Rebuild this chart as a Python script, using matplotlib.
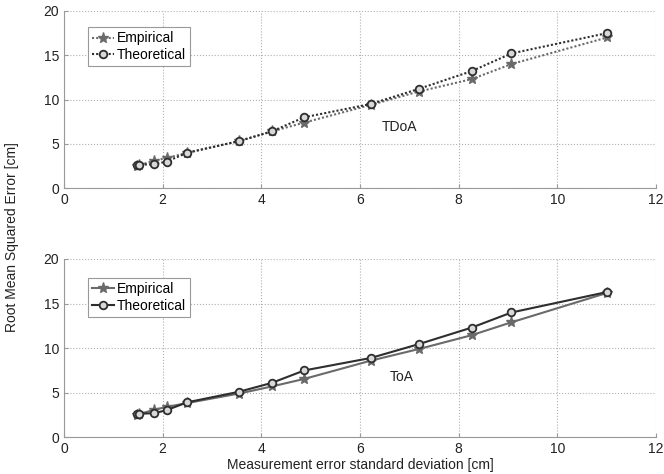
import numpy as np
import matplotlib
matplotlib.use('Agg')
import matplotlib.pyplot as plt

plt.rcParams['font.family'] = ['Liberation Sans', 'DejaVu Sans']

# measurement error std dev [cm]
sigma = [1.47, 1.53, 1.83, 2.08, 2.50, 3.54, 4.21, 4.87, 6.22, 7.19, 8.26, 9.07, 11.01]

# TDoA rmse [cm]
tdoa_emp = [2.5, 2.6, 3.1, 3.4, 4.0, 5.3, 6.4, 7.4, 9.4, 10.9, 12.3, 14.0, 17.0]
tdoa_theo = [2.6, 2.65, 2.7, 3.0, 4.0, 5.3, 6.4, 8.0, 9.5, 11.2, 13.2, 15.2, 17.5]

# ToA rmse [cm]
toa_emp = [2.55, 2.6, 3.1, 3.4, 3.85, 4.9, 5.7, 6.55, 8.6, 9.9, 11.45, 12.9, 16.2]
toa_theo = [2.6, 2.65, 2.7, 3.05, 3.93, 5.1, 6.1, 7.5, 8.9, 10.45, 12.3, 14.0, 16.3]

dotted = (0, (1, 1))
panels = [('TDoA', tdoa_emp, tdoa_theo, dotted, (6.45, 6.45), 0.908),
          ('ToA', toa_emp, toa_theo, '-', (6.6, 6.3), 0.893)]

fig = plt.figure(figsize=(6.64, 4.74), dpi=100)
boxes = [[0.0964, 0.603, 0.8916, 0.374],
         [0.0964, 0.0774, 0.8916, 0.3762]]

for box, (name, emp, theo, ls, txt, legy) in zip(boxes, panels):
    ax = fig.add_axes(box)
    lw = 1.5
    ax.plot(sigma, emp, linestyle=ls, color='#6a6a6a', lw=lw, marker='*',
            ms=8, mfc='#6a6a6a', mec='#6a6a6a', label='Empirical')
    ax.plot(sigma, theo, linestyle=ls, color='#2e2e2e', lw=lw, marker='o',
            ms=5.5, mfc='#d8d8d8', mec='#2e2e2e', mew=1.3, label='Theoretical')
    ax.set_xlim(0, 12)
    ax.set_ylim(0, 20)
    ax.set_xticks(np.arange(0, 13, 2))
    ax.set_yticks(np.arange(0, 21, 5))
    ax.grid(True, linestyle=':', color='#b0b0b0', lw=0.8)
    for s in ['top', 'right']:
        ax.spines[s].set_visible(False)
    for s in ['left', 'bottom']:
        ax.spines[s].set_color('#999999')
    ax.tick_params(direction='in', length=3, color='#999999', labelsize=10,
                   labelcolor='#222222')
    ax.text(txt[0], txt[1], name, fontsize=10, color='#222222')
    leg = ax.legend(loc='upper left', bbox_to_anchor=(0.04, legy), fontsize=10,
                    fancybox=False, framealpha=1, edgecolor='#999999',
                    handlelength=1.6, handletextpad=0.2, borderpad=0.3,
                    labelspacing=0.2, borderaxespad=0)
    leg.get_frame().set_linewidth(0.8)
    if name == 'ToA':
        ax.set_xlabel('Measurement error standard deviation [cm]', fontsize=10,
                      color='#222222', labelpad=1)

fig.text(0.018, 0.5, 'Root Mean Squared Error [cm]', rotation=90, va='center',
         ha='center', fontsize=10, color='#222222')

fig.savefig('out.png', dpi=100)
